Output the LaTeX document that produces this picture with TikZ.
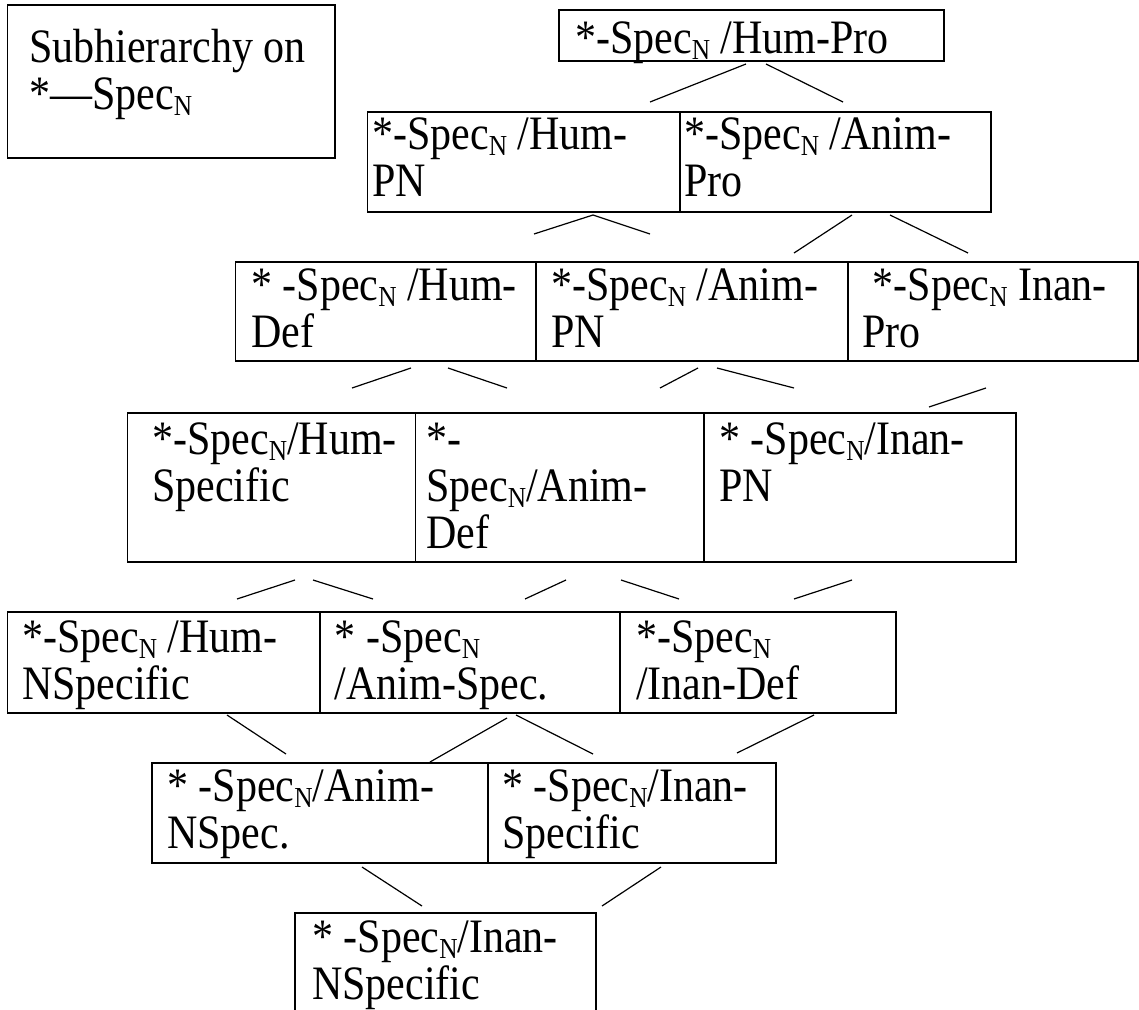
\documentclass[tikz,border=0pt]{standalone}
\usepackage{fontspec}
% Times-metric serif, set a little narrow and tall
\setmainfont{Liberation Serif}[FakeStretch=0.875]
% lowered small capital N used as subscript
\newcommand\subN{\raisebox{-6pt}{\fontsize{29}{29}\selectfont N}}
% left-aligned stack of lines whose baseline is the first line
\newcommand\txt[1]{\vtop{\halign{##\hfil\cr#1\crcr}}}
% a short free-standing connector between two named coordinates
\newcommand\wire[3]{\coordinate (#1a) at #2; \coordinate (#1b) at #3; \draw[link] (#1a) -- (#1b);}
\begin{document}
\begin{tikzpicture}[x=1pt,y=-1pt,
  cell/.style 2 args={draw, line width=1.6pt, anchor=north west, inner sep=0pt,
    minimum width=#1pt, minimum height=#2pt},
  lbl/.style={anchor=base west, inner sep=0pt, font=\fontsize{48}{47}\selectfont},
  link/.style={line width=1.2pt}]
\useasboundingbox (0,0) rectangle (1139,1009);

% legend
\node[cell={327.5}{153}] (legend) at (6.5,4) {};
\node[lbl] (legendtxt) at (29,62) {\txt{Subhierarchy on\cr *—Spec\subN}};

% row 1
\node[cell={385}{51}] (r1) at (558,9) {};
\node[lbl] (r1t) at (575,53) {*-Spec\subN{} /Hum-Pro};

% row 2
\node[cell={312.5}{100}] (r2a) at (366.5,111) {};
\node[cell={311}{100}] (r2b) at (679,111) {};
\node[lbl] (r2at) at (372,149) {\txt{*-Spec\subN{} /Hum-\cr PN}};
\node[lbl] (r2bt) at (684,149) {\txt{*-Spec\subN{} /Anim-\cr Pro}};

% row 3
\node[cell={300.5}{99}] (r3a) at (234.5,261) {};
\node[cell={312}{99}] (r3b) at (535,261) {};
\node[cell={290}{99}] (r3c) at (847,261) {};
\node[lbl] (r3at) at (251,300) {\txt{* -Spec\subN{} /Hum-\cr Def}};
\node[lbl] (r3bt) at (551,300) {\txt{*-Spec\subN{} /Anim-\cr PN}};
\node[lbl] (r3ct) at (862,300) {\txt{\ *-Spec\subN{} Inan-\cr Pro}};

% row 4
\node[cell={288}{149}] (r4a) at (126.5,412) {};
\node[cell={288.5}{149}] (r4b) at (414.5,412) {};
\node[cell={312}{149}] (r4c) at (703,412) {};
\node[lbl] (r4at) at (152,454) {\txt{*-Spec\subN/Hum-\cr Specific}};
\node[lbl] (r4bt) at (426,454) {\txt{*-\cr Spec\subN/Anim-\cr Def}};
\node[lbl] (r4ct) at (719,454) {\txt{* -Spec\subN/Inan-\cr PN}};

% row 5
\node[cell={312.5}{101}] (r5a) at (6.5,611) {};
\node[cell={300}{101}] (r5b) at (319,611) {};
\node[cell={276}{101}] (r5c) at (619,611) {};
\node[lbl] (r5at) at (22,652) {\txt{*-Spec\subN{} /Hum-\cr NSpecific}};
\node[lbl] (r5bt) at (334.5,652) {\txt{* -Spec\subN\cr /Anim-Spec.}};
\node[lbl] (r5ct) at (636,652) {\txt{*-Spec\subN\cr /Inan-Def}};

% row 6
\node[cell={336}{100}] (r6a) at (151,762) {};
\node[cell={288}{100}] (r6b) at (487,762) {};
\node[lbl] (r6at) at (167,801) {\txt{* -Spec\subN/Anim-\cr NSpec.}};
\node[lbl] (r6bt) at (502,801) {\txt{* -Spec\subN/Inan-\cr Specific}};

% row 7: open at the bottom edge
\coordinate (r7sw) at (295,1012);
\coordinate (r7nw) at (295,913);
\coordinate (r7ne) at (596,913);
\coordinate (r7se) at (596,1012);
\draw[line width=1.6pt] (r7sw) -- (r7nw) -- (r7ne) -- (r7se);
\node[lbl] (r7t) at (312,952) {\txt{* -Spec\subN/Inan-\cr NSpecific}};

% connectors between rows
\wire{ka}{(746,64)}{(650,102)}
\wire{kb}{(766,64)}{(843,102)}

\wire{kc}{(593,215)}{(534,234)}
\wire{kd}{(593,215)}{(650,234)}
\wire{ke}{(852,215)}{(794,253)}
\wire{kf}{(890,215)}{(968,253)}

\wire{kg}{(411,368)}{(352,388)}
\wire{kh}{(448,368)}{(507,388)}
\wire{ki}{(698,368)}{(660,388)}
\wire{kj}{(717,368)}{(794,388)}
\wire{kk}{(986,388)}{(929,407)}

\wire{kl}{(295,580)}{(237,599)}
\wire{km}{(313,580)}{(373,599)}
\wire{kn}{(566,580)}{(525,599)}
\wire{ko}{(621,580)}{(679,599)}
\wire{kp}{(852,580)}{(794,599)}

\wire{kq}{(227,715)}{(286,754)}
\wire{kr}{(507,718)}{(430,762)}
\wire{ks}{(516,715)}{(593,754)}
\wire{kt}{(814,715)}{(737,753)}

\wire{ku}{(362,867)}{(422,906)}
\wire{kv}{(661,867)}{(602,906)}
\end{tikzpicture}
\end{document}
